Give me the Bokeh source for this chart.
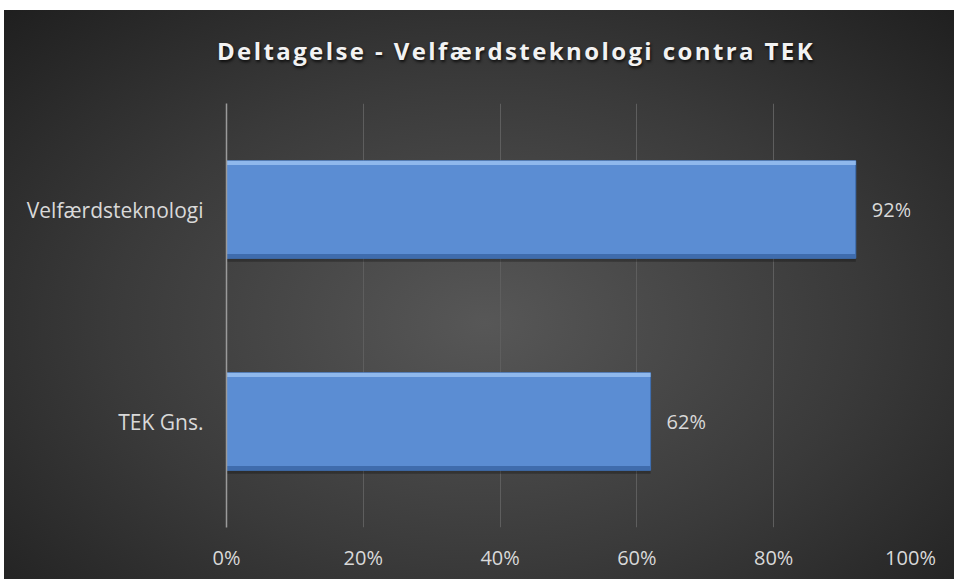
from bokeh.plotting import figure
from bokeh.layouts import column
from bokeh.models import FactorRange, Range1d, FixedTicker, ColumnDataSource, Div
from bokeh.core.properties import value
from bokeh.transform import dodge
from bokeh.embed import file_html
from bokeh.resources import INLINE

categories = ["TEK Gns.", "Velfærdsteknologi"]
values = [0.62, 0.92]
value_labels = ["62%", "92%"]
tick_values = [0.0, 0.2, 0.4, 0.6, 0.8, 1.0]
tick_labels = ["0%", "20%", "40%", "60%", "80%", "100%"]
title_text = "Deltagelse - Velfærdsteknologi contra TEK"

FONT = "Open Sans"
W = 950
TITLE_H = 83
PLOT_H = 476

title_div = Div(
    text=title_text, width=W, height=TITLE_H,
    styles={
        "font-family": "Open Sans", "font-weight": "bold", "font-size": "24px",
        "letter-spacing": "2.4px", "color": "#f2f2f2", "text-align": "center",
        "line-height": "72px", "text-shadow": "1px 2px 3px rgba(0,0,0,0.75)",
        "text-indent": "64px",
        "width": f"{W}px",
    },
)

p = figure(
    width=W, height=PLOT_H,
    y_range=FactorRange(*categories),
    x_range=Range1d(0, 1),
    output_backend="svg", toolbar_location=None,
    min_border_left=222, min_border_right=44, min_border_top=0, min_border_bottom=52,
)
p.background_fill_alpha = 0
p.border_fill_alpha = 0
p.outline_line_color = None

src = ColumnDataSource(dict(cat=categories, val=values, lab=value_labels))

# shadow
p.hbar(y=dodge("cat", -0.012, range=p.y_range), right="val", left=0, height=0.47, source=src,
       fill_color="#111111", fill_alpha=0.35, line_color=None)
# main bar
p.hbar(y="cat", right="val", left=0, height=0.46, source=src,
       fill_color="#5b8dd3", line_color="#3e6fb2", line_width=1)
# bevel highlight / shade
p.hbar(y=dodge("cat", 0.22, range=p.y_range), right="val", left=0, height=0.02, source=src,
       fill_color="#8fb8ec", line_color=None)
p.hbar(y=dodge("cat", -0.22, range=p.y_range), right="val", left=0, height=0.02, source=src,
       fill_color="#3f6cad", line_color=None)

p.text(x="val", y="cat", text="lab", source=src, x_offset=16,
       text_baseline="middle", text_align="left", text_color="#d9d9d9",
       text_font=value(FONT), text_font_size="20px")

p.xaxis.ticker = FixedTicker(ticks=tick_values)
p.xaxis.major_label_overrides = {v: l for v, l in zip(tick_values, tick_labels)}
p.xaxis.axis_line_color = None
p.xaxis.major_tick_line_color = None
p.xaxis.minor_tick_line_color = None
p.xaxis.major_label_standoff = 10
p.xaxis.major_label_text_color = "#d9d9d9"
p.xaxis.major_label_text_font = FONT
p.xaxis.major_label_text_font_size = "20px"

p.yaxis.axis_line_color = "#9a9a9a"
p.yaxis.axis_line_width = 1.5
p.yaxis.major_tick_line_color = None
p.yaxis.minor_tick_line_color = None
p.yaxis.major_label_standoff = 17
p.yaxis.major_label_text_color = "#d9d9d9"
p.yaxis.major_label_text_font = FONT
p.yaxis.major_label_text_font_size = "21px"

p.xgrid.ticker = FixedTicker(ticks=tick_values[1:])
p.xgrid.grid_line_color = "#5e5e5e"
p.xgrid.grid_line_width = 1
p.ygrid.grid_line_color = None

layout = column(
    title_div, p, spacing=0,
    styles={
        "background": "radial-gradient(ellipse at 50% 55%, #575757 0%, #3a3a3a 55%, #1f1f1f 100%)",
        "margin-left": "4px",
        "margin-top": "10px",
    },
)

open("out.html", "w").write(file_html(layout, INLINE))
